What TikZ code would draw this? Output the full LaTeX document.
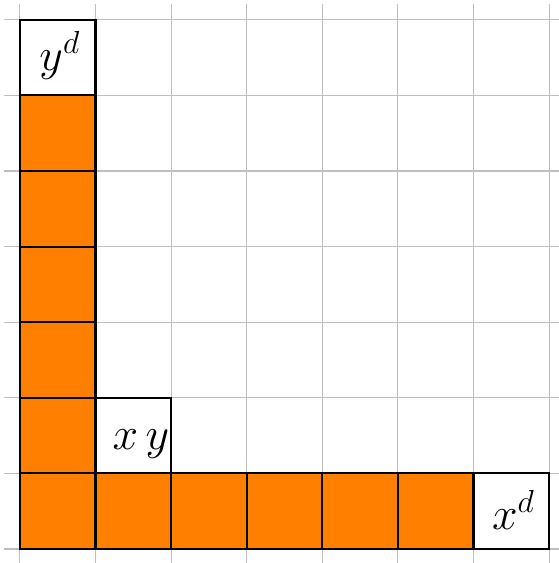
\documentclass[tikz,border=0pt]{standalone}
\usepackage{amsmath, amssymb}
\usepackage{tikz}
\usetikzlibrary{positioning}

\definecolor{cellorange}{RGB}{255,128,0}

\begin{document}
\begin{tikzpicture}[x=1cm, y=1cm,
  cell/.style={draw, line width=0.8pt, minimum size=1cm, inner sep=0pt, outer sep=0pt},
  filled/.style={cell, fill=cellorange},
  lbl/.style={anchor=base, inner sep=0pt, font=\LARGE}]
\useasboundingbox (-0.264,-0.185) rectangle (7.13,7.262);
\draw[gray!50, line width=0.4pt, step=1] (-0.21,-0.3) grid (7.3,7.21);
% left column
\node[filled] (l1) at (0.5,1.5) {};
\node[filled] (l2) at (0.5,2.5) {};
\node[filled] (l3) at (0.5,3.5) {};
\node[filled] (l4) at (0.5,4.5) {};
\node[filled] (l5) at (0.5,5.5) {};
\node[cell, fill=white] (yd) at (0.5,6.5) {};
% bottom row
\node[filled] (b0) at (0.5,0.5) {};
\node[filled] (b1) at (1.5,0.5) {};
\node[filled] (b2) at (2.5,0.5) {};
\node[filled] (b3) at (3.5,0.5) {};
\node[filled] (b4) at (4.5,0.5) {};
\node[filled] (b5) at (5.5,0.5) {};
\node[cell, fill=white] (xd) at (6.5,0.5) {};
% corner
\node[cell, fill=white] (xy) at (1.5,1.5) {};
% labels
\node[lbl] (ydlabel) at ([xshift=0.03cm, yshift=0.33cm]yd.south) {$y^d$};
\node[lbl] (xdlabel) at ([xshift=0.03cm, yshift=0.26cm]xd.south) {$x^d$};
\node[lbl] (xylabel) at ([xshift=0.1cm, yshift=0.32cm]xy.south) {$x\,y$};
\end{tikzpicture}
\end{document}
